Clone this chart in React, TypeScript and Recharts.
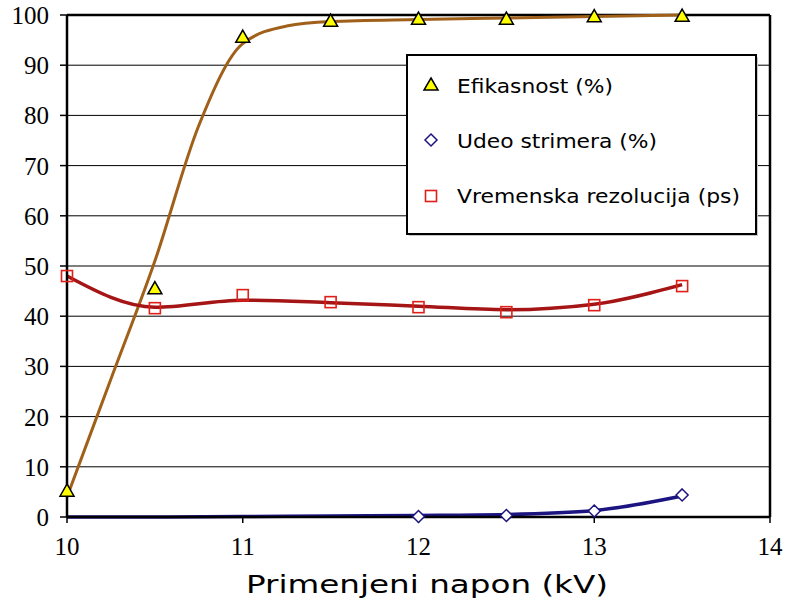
import React from "react";
import { ComposedChart, Line, XAxis, YAxis, CartesianGrid, ReferenceLine } from "recharts";

const voltages = [10, 10.25, 10.5, 10.75, 11, 11.25, 11.5, 12, 12.5, 13, 13.5];
const efikasnost = [5.2, null, 45.5, null, 95.6, null, 98.8, 99.2, 99.2, 99.7, 99.8];
const efikasnostFit = [4, 27.5, 51, 78, 94.3, 97.8, 98.7, 99.1, 99.4, 99.7, 100];
const udeo = [null, null, null, null, null, null, null, 0.1, 0.3, 1.2, 4.4];
const udeoFit = [0, null, 0, null, 0.1, null, 0.2, 0.3, 0.5, 1.3, 4.2];
const vremenska = [48.0, null, 41.6, null, 44.2, null, 42.8, 41.8, 40.8, 42.2, 46.0];
const vremenskaFit = [48, null, 41.8, null, 43.2, null, 42.7, 42.0, 41.3, 42.4, 46.3];

const xTicks = [10, 11, 12, 13, 14];
const yTicks = [0, 10, 20, 30, 40, 50, 60, 70, 80, 90, 100];

const seriesNames = ["Efikasnost (%)", "Udeo strimera (%)", "Vremenska rezolucija (ps)"];
const xTitle = "Primenjeni napon (kV)";

const data = voltages.map((v, i) => ({
  v,
  eff: efikasnost[i],
  effFit: efikasnostFit[i],
  ud: udeo[i],
  udFit: udeoFit[i],
  vr: vremenska[i],
  vrFit: vremenskaFit[i],
}));

const BROWN = "#A0601A";
const NAVY = "#1C1480";
const DARKRED = "#A51515";
const RED = "#E02018";
const SERIF = "'Liberation Serif', 'Times New Roman', serif";

const Tri = ({ cx, cy }: any) => {
  if (cx == null || cy == null || Number.isNaN(cy)) return null;
  const s = 7;
  return (
    <path
      d={`M${cx},${cy - s} L${cx + s},${cy + s * 0.75} L${cx - s},${cy + s * 0.75} Z`}
      fill="#FFFF00"
      stroke="#000"
      strokeWidth={1.5}
    />
  );
};
const Dia = ({ cx, cy }: any) => {
  if (cx == null || cy == null || Number.isNaN(cy)) return null;
  const s = 6;
  return (
    <path
      d={`M${cx},${cy - s} L${cx + s},${cy} L${cx},${cy + s} L${cx - s},${cy} Z`}
      fill="#fff"
      stroke={NAVY}
      strokeWidth={1.5}
    />
  );
};
const Sq = ({ cx, cy }: any) => {
  if (cx == null || cy == null || Number.isNaN(cy)) return null;
  const s = 5.5;
  return <rect x={cx - s} y={cy - s} width={2 * s} height={2 * s} fill="none" stroke={RED} strokeWidth={1.6} />;
};

const renderYTick = (p: any) => (
  <text key={`y-${p.payload.value}`} x={p.x} y={p.y + 9} textAnchor="end" fontFamily={SERIF} fontSize={25} fill="#000">
    {p.payload.value}
  </text>
);
const renderXTick = (p: any) => (
  <text key={`x-${p.payload.value}`} x={p.x} y={p.y + 22} textAnchor="middle" fontFamily={SERIF} fontSize={25} fill="#000">
    {p.payload.value}
  </text>
);

const legendWidths = [156, 200, 283];

const LegendBox = () => (
  <svg width={360} height={190} style={{ position: "absolute", left: 405, top: 53 }}>
    <rect x={4} y={4} width={349} height={179} fill="#c8c8c8" />
    <rect x={2} y={2} width={349} height={179} fill="#fff" stroke="#000" strokeWidth={2} />
    <path d="M26,25 L33,37 L19,37 Z" fill="#FFFF00" stroke="#000" strokeWidth={1.5} />
    <path d="M26,81 L32,87 L26,93 L20,87 Z" fill="#fff" stroke={NAVY} strokeWidth={1.5} />
    <rect x={20.5} y={137.5} width={11} height={11} fill="#fff" stroke={RED} strokeWidth={1.6} />
    {seriesNames.map((n, i) => (
      <text
        key={n}
        x={52}
        y={40 + i * 55}
        style={{ fontFamily: "'DejaVu Sans', sans-serif", fontSize: 20 }}
        fill="#000"
        textLength={legendWidths[i]}
        lengthAdjust="spacingAndGlyphs"
      >
        {n}
      </text>
    ))}
  </svg>
);

export default function App() {
  return (
    <div style={{ position: "absolute", left: 0, top: 0, width: 787, height: 608, background: "#fff", fontFamily: SERIF }}>
      <ComposedChart width={787} height={608} data={data} margin={{ top: 15, right: 17, bottom: 0, left: 0 }}>
        <CartesianGrid horizontal vertical={false} stroke="#000" strokeWidth={1} />
        <XAxis
          dataKey="v"
          type="number"
          domain={[10, 14]}
          ticks={xTicks}
          height={91}
          tickSize={6}
          tickMargin={10}
          fontFamily={SERIF}
          fontSize={25}
          axisLine={{ stroke: "#000", strokeWidth: 2.5 }}
          tickLine={{ stroke: "#000", strokeWidth: 1.5 }}
          tick={renderXTick}
        />
        <YAxis
          type="number"
          domain={[0, 100]}
          ticks={yTicks}
          width={67}
          tickSize={7}
          tickMargin={11}
          fontFamily={SERIF}
          fontSize={25}
          axisLine={{ stroke: "#000", strokeWidth: 2.5 }}
          tickLine={{ stroke: "#000", strokeWidth: 1.5 }}
          tick={renderYTick}
          interval={0}
        />
        <ReferenceLine y={100} stroke="#000" strokeWidth={2.5} />
        <ReferenceLine x={14} stroke="#000" strokeWidth={2.5} />
        <Line dataKey="effFit" type="monotone" stroke={BROWN} strokeWidth={3} dot={false} connectNulls isAnimationActive={false} />
        <Line dataKey="udFit" type="monotone" stroke={NAVY} strokeWidth={3.5} dot={false} connectNulls isAnimationActive={false} />
        <Line dataKey="vrFit" type="monotone" stroke={DARKRED} strokeWidth={3.5} dot={false} connectNulls isAnimationActive={false} />
        <Line dataKey="eff" stroke="none" dot={<Tri />} activeDot={false} isAnimationActive={false} />
        <Line dataKey="ud" stroke="none" dot={<Dia />} activeDot={false} isAnimationActive={false} />
        <Line dataKey="vr" stroke="none" dot={<Sq />} activeDot={false} isAnimationActive={false} />
        <text
          x={427}
          y={593}
          textAnchor="middle"
          style={{ fontFamily: "'DejaVu Sans', sans-serif", fontSize: 25 }}
          fill="#000"
          textLength={362}
          lengthAdjust="spacingAndGlyphs"
        >
          {xTitle}
        </text>
      </ComposedChart>
      <LegendBox />
    </div>
  );
}
